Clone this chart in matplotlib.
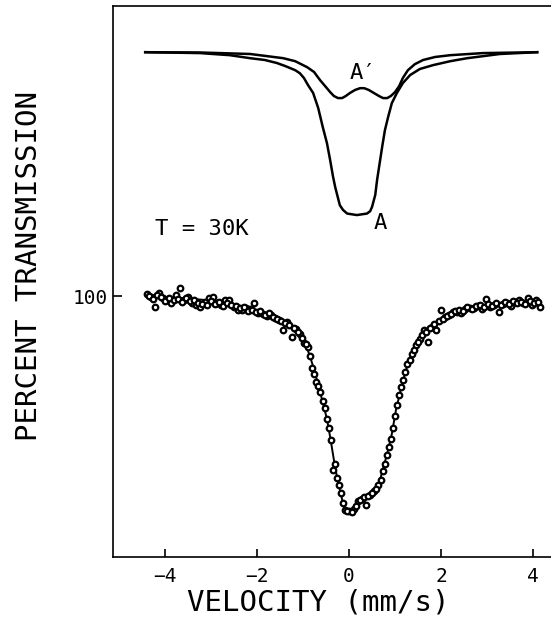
import numpy as np
import matplotlib
matplotlib.use('Agg')
import matplotlib.pyplot as plt

plt.rcParams['font.family'] = ['DejaVu Sans Mono', 'DejaVu Sans']

# measured spectrum, T = 30K (even channels)
vel = [-4.40, -4.31, -4.22, -4.13, -4.04, -3.95, -3.86, -3.77, -3.68, -3.59,
	-3.50, -3.41, -3.32, -3.23, -3.14, -3.05, -2.96, -2.87, -2.78, -2.69,
	-2.60, -2.51, -2.42, -2.33, -2.24, -2.15, -2.06, -1.97, -1.88, -1.79,
	-1.70, -1.61, -1.52, -1.43, -1.34, -1.25, -1.16, -1.07, -0.98, -0.89,
	-0.80, -0.71, -0.62, -0.53, -0.44, -0.35, -0.26, -0.17, -0.08, 0.01,
	0.10, 0.19, 0.28, 0.37, 0.46, 0.55, 0.64, 0.73, 0.82, 0.91,
	1.00, 1.09, 1.18, 1.27, 1.36, 1.45, 1.54, 1.63, 1.72, 1.81,
	1.90, 1.99, 2.08, 2.17, 2.26, 2.35, 2.44, 2.53, 2.62, 2.71,
	2.80, 2.89, 2.98, 3.07, 3.16, 3.25, 3.34, 3.43, 3.52, 3.61,
	3.70, 3.79, 3.88, 3.97, 4.06, 4.15]
trans = [100.07, 99.97, 99.63, 100.10, 99.93, 99.87, 99.77, 100.03, 100.27, 99.87,
	99.97, 99.77, 99.70, 99.63, 99.80, 99.93, 99.97, 99.77, 99.70, 99.87,
	99.87, 99.63, 99.53, 99.53, 99.60, 99.57, 99.77, 99.43, 99.40, 99.33,
	99.37, 99.27, 99.20, 98.87, 99.13, 98.63, 98.90, 98.73, 98.43, 98.30,
	97.60, 97.13, 96.80, 96.27, 95.60, 94.20, 93.93, 93.43, 92.87, 92.83,
	92.90, 93.17, 93.23, 93.03, 93.37, 93.50, 93.70, 94.17, 94.70, 95.23,
	96.00, 96.70, 97.20, 97.73, 98.07, 98.37, 98.57, 98.87, 98.47, 98.97,
	98.87, 99.53, 99.30, 99.37, 99.47, 99.47, 99.43, 99.57, 99.60, 99.60,
	99.67, 99.57, 99.90, 99.63, 99.70, 99.47, 99.73, 99.77, 99.67, 99.80,
	99.87, 99.77, 99.93, 99.70, 99.87, 99.63]

# odd channels
vel_odd = [-4.355, -4.265, -4.175, -4.085, -3.995, -3.905, -3.815, -3.725, -3.635, -3.545,
	-3.455, -3.365, -3.275, -3.185, -3.095, -3.005, -2.915, -2.825, -2.735, -2.645,
	-2.555, -2.465, -2.375, -2.285, -2.195, -2.105, -2.015, -1.925, -1.835, -1.745,
	-1.655, -1.565, -1.475, -1.385, -1.295, -1.205, -1.115, -1.025, -0.935, -0.845,
	-0.755, -0.665, -0.575, -0.485, -0.395, -0.305, -0.215, -0.125, -0.035, 0.055,
	0.145, 0.235, 0.325, 0.415, 0.505, 0.595, 0.685, 0.775, 0.865, 0.955,
	1.045, 1.135, 1.225, 1.315, 1.405, 1.495, 1.585, 1.675, 1.765, 1.855,
	1.945, 2.035, 2.125, 2.215, 2.305, 2.395, 2.485, 2.575, 2.665, 2.755,
	2.845, 2.935, 3.025, 3.115, 3.205, 3.295, 3.385, 3.475, 3.565, 3.655,
	3.745, 3.835, 3.925, 4.015, 4.105]
trans_odd = [100.00, 99.90, 100.03, 99.97, 99.83, 99.93, 99.87, 99.90, 99.80, 99.93,
	99.83, 99.87, 99.77, 99.73, 99.70, 99.83, 99.73, 99.80, 99.67, 99.77,
	99.70, 99.67, 99.60, 99.63, 99.50, 99.53, 99.47, 99.50, 99.37, 99.43,
	99.30, 99.23, 99.17, 99.10, 99.03, 98.93, 98.80, 98.60, 98.40, 98.00,
	97.40, 97.00, 96.50, 95.90, 95.20, 94.40, 93.70, 93.10, 92.83, 92.80,
	93.00, 93.20, 93.30, 93.33, 93.43, 93.57, 93.87, 94.40, 94.97, 95.60,
	96.37, 96.97, 97.47, 97.87, 98.20, 98.47, 98.70, 98.80, 98.93, 99.07,
	99.17, 99.23, 99.33, 99.40, 99.50, 99.53, 99.50, 99.63, 99.57, 99.67,
	99.70, 99.63, 99.73, 99.67, 99.77, 99.70, 99.80, 99.73, 99.83, 99.77,
	99.80, 99.73, 99.83, 99.77, 99.80]

# fitted envelope
fit_vel = [-4.43, -4.00, -3.50, -3.00, -2.50, -2.15, -1.80, -1.50, -1.30, -1.13,
	-0.96, -0.85, -0.76, -0.67, -0.57, -0.48, -0.41, -0.33, -0.26, -0.20,
	-0.11, -0.05, 0.09, 0.17, 0.35, 0.50, 0.61, 0.67, 0.74, 0.83,
	0.93, 1.02, 1.15, 1.28, 1.37, 1.50, 1.65, 1.83, 2.00, 2.26,
	2.60, 3.00, 3.50, 4.00, 4.15]
fit_trans = [100.05, 99.97, 99.92, 99.85, 99.72, 99.58, 99.42, 99.22, 99.05, 98.83,
	98.45, 98.00, 97.55, 97.05, 96.45, 95.90, 95.30, 94.55, 93.95, 93.55,
	92.95, 92.85, 92.85, 93.10, 93.25, 93.43, 93.63, 93.85, 94.25, 94.75,
	95.40, 96.20, 97.05, 97.75, 98.10, 98.45, 98.78, 99.00, 99.20, 99.42,
	99.58, 99.68, 99.76, 99.80, 99.82]

# subspectrum A (offset)
a_vel = [-4.43, -3.24, -2.59, -2.15, -1.83, -1.57, -1.39, -1.28, -1.17, -1.07,
	-0.98, -0.89, -0.78, -0.67, -0.57, -0.48, -0.41, -0.35, -0.30, -0.24,
	-0.20, -0.13, -0.04, 0.17, 0.39, 0.46, 0.50, 0.57, 0.61, 0.67,
	0.72, 0.78, 0.85, 0.93, 1.04, 1.17, 1.33, 1.54, 1.83, 2.20,
	2.57, 3.28, 4.09]
a_trans = [108.13, 108.10, 108.03, 107.93, 107.87, 107.77, 107.67, 107.60, 107.53, 107.43,
	107.27, 107.03, 106.77, 106.27, 105.63, 105.10, 104.53, 104.00, 103.63, 103.27,
	103.03, 102.87, 102.75, 102.70, 102.75, 102.83, 102.97, 103.37, 103.87, 104.47,
	104.97, 105.53, 105.97, 106.43, 106.77, 107.10, 107.37, 107.57, 107.70, 107.83,
	107.93, 108.07, 108.13]

# subspectrum A' (offset)
b_vel = [-4.43, -3.24, -2.15, -1.43, -1.17, -0.91, -0.76, -0.63, -0.52, -0.41,
	-0.33, -0.24, -0.15, -0.07, 0.02, 0.13, 0.24, 0.33, 0.43, 0.54,
	0.65, 0.74, 0.83, 0.91, 1.00, 1.09, 1.17, 1.28, 1.43, 1.61,
	1.87, 2.20, 2.91, 4.09]
b_trans = [108.13, 108.12, 108.07, 107.93, 107.83, 107.63, 107.47, 107.20, 107.00, 106.80,
	106.67, 106.60, 106.60, 106.67, 106.77, 106.87, 106.93, 106.93, 106.87, 106.77,
	106.67, 106.60, 106.60, 106.67, 106.80, 107.00, 107.27, 107.53, 107.73, 107.87,
	107.97, 108.03, 108.10, 108.13]

fig = plt.figure(figsize = (5.51, 6.19), dpi = 100)
ax = fig.add_axes([113 / 551, 62 / 619, 438 / 551, 551 / 619])

ax.plot(a_vel, a_trans, color = 'black', linewidth = 1.8, solid_joinstyle = 'round')
ax.plot(b_vel, b_trans, color = 'black', linewidth = 1.8, solid_joinstyle = 'round')
ax.plot(fit_vel, fit_trans, color = 'black', linewidth = 1.4)
for v, t in [(vel, trans), (vel_odd, trans_odd)]:
	ax.plot(v, t, linestyle = 'none', marker = 'o', markersize = 4.0,
		markerfacecolor = 'white', markeredgecolor = 'black', markeredgewidth = 1.6)

ax.text(0.30, 107.43, "A\u2032", fontsize = 16, ha = 'center', va = 'center')
ax.text(0.67, 102.43, "A", fontsize = 16, ha = 'center', va = 'center')
ax.text(-4.22, 102.23, "T = 30K", fontsize = 16, ha = 'left', va = 'center')

ax.set_xlim(-5.13, 4.39)
ax.set_ylim(91.3, 109.67)
ax.set_xticks([-4, -2, 0, 2, 4])
ax.set_xticklabels(["\u22124", "\u22122", "0", "2", "4"])
ax.set_yticks([100])
ax.set_yticklabels(["100"])
ax.tick_params(axis = 'x', direction = 'in', length = 6, width = 1.2, pad = 7, labelsize = 14, top = False)
ax.tick_params(axis = 'y', direction = 'in', length = 6.5, width = 1.2, pad = 4, labelsize = 14, right = False)

ax.spines['right'].set_visible(False)
for side in ['left', 'bottom', 'top']:
	ax.spines[side].set_linewidth(1.2)

fig.text(318 / 551, 1 - 602 / 619, "VELOCITY (mm/s)", fontsize = 21, ha = 'center', va = 'center')
fig.text(29 / 551, 1 - 266 / 619, "PERCENT TRANSMISSION", fontsize = 21, rotation = 90, ha = 'center', va = 'center')

fig.savefig('out.png', dpi = 100)
